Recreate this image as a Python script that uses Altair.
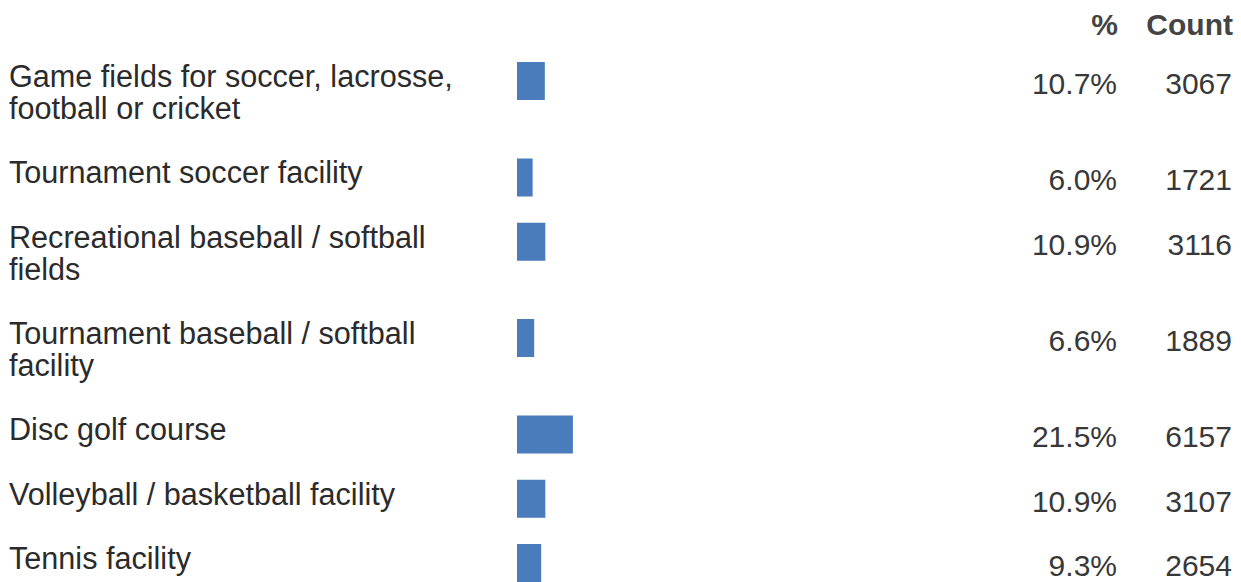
import altair as alt
import pandas as pd

# ---- data ----
label_lines = [
    ["Game fields for soccer, lacrosse,", "football or cricket"],
    ["Tournament soccer facility"],
    ["Recreational baseball / softball", "fields"],
    ["Tournament baseball / softball", "facility"],
    ["Disc golf course"],
    ["Volleyball / basketball facility"],
    ["Tennis facility"],
]
percents = [10.7, 6.0, 10.9, 6.6, 21.5, 10.9, 9.3]
counts = [3067, 1721, 3116, 1889, 6157, 3107, 2654]
headers = ["%", "Count"]

# row slot in "text line" units: each row takes its lines plus one gap line
slots = []
s = 0
for lines in label_lines:
    slots.append(s)
    s += len(lines) + 1

rows = pd.DataFrame({
    "slot": slots,
    "pct": percents,
    "count": counts,
    "pct_text": [f"{p:.1f}%" for p in percents],
    "count_text": [str(c) for c in counts],
})

line_recs = []
for slot, lines in zip(slots, label_lines):
    for i, t in enumerate(lines):
        line_recs.append({"line_slot": slot + i, "text": t})
lines_df = pd.DataFrame(line_recs)

# ---- layout ----
W, H = 1225, 574
PX_PER_LINE = 32.13
FIRST_ROW_Y = 73  # pixel (inside view) of first row centre
PX_PER_PCT = 2.6
BAR_X0 = 509      # pixel (inside view) where bars start

y_dom = [-FIRST_ROW_Y / PX_PER_LINE, (H - FIRST_ROW_Y) / PX_PER_LINE]
y_scale = alt.Scale(domain=y_dom, reverse=True, nice=False, zero=False, padding=0)
x_dom = [-BAR_X0 / PX_PER_PCT, (W - BAR_X0) / PX_PER_PCT]
x_scale = alt.Scale(domain=x_dom, nice=False, zero=False, padding=0)

FONT = "Liberation Sans"
LABEL_COLOR = "#2b2b2b"
NUM_COLOR = "#383838"
BAR_COLOR = "#4a7bba"

bars = alt.Chart(rows).mark_bar(color=BAR_COLOR, height=38, orient="horizontal").encode(
    x=alt.X("pct:Q", scale=x_scale, axis=None),
    y=alt.Y("slot:Q", scale=y_scale, axis=None),
)

labels = alt.Chart(lines_df).mark_text(
    align="left", baseline="middle", font=FONT, fontSize=30.6, color=LABEL_COLOR, dy=-3
).encode(
    x=alt.value(1),
    y=alt.Y("line_slot:Q", scale=y_scale, axis=None),
    text="text:N",
)

pct_text = alt.Chart(rows).mark_text(
    align="right", baseline="middle", font=FONT, fontSize=30, color=NUM_COLOR, dy=4
).encode(
    x=alt.value(1109),
    y=alt.Y("slot:Q", scale=y_scale, axis=None),
    text="pct_text:N",
)

count_text = alt.Chart(rows).mark_text(
    align="right", baseline="middle", font=FONT, fontSize=30, color=NUM_COLOR, dy=4
).encode(
    x=alt.value(1224),
    y=alt.Y("slot:Q", scale=y_scale, axis=None),
    text="count_text:N",
)

hdr_pct = alt.Chart(pd.DataFrame({"h": [headers[0]]})).mark_text(
    align="right", baseline="middle", font=FONT, fontSize=30, fontWeight="bold", color="#444444"
).encode(x=alt.value(1110), y=alt.value(18), text="h:N")

hdr_cnt = alt.Chart(pd.DataFrame({"h": [headers[1]]})).mark_text(
    align="right", baseline="middle", font=FONT, fontSize=30, fontWeight="bold", color="#444444"
).encode(x=alt.value(1225), y=alt.value(18), text="h:N")

chart = alt.layer(bars, labels, pct_text, count_text, hdr_pct, hdr_cnt).properties(
    width=W, height=H, padding=0, autosize=alt.AutoSizeParams(type="none")
).configure_view(stroke=None)

chart.save("out.html", embed_options={"renderer": "svg", "actions": False})
